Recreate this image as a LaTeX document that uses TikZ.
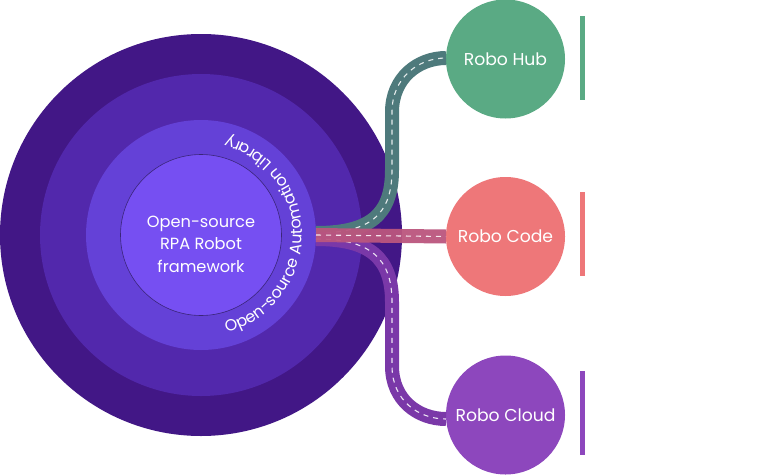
\documentclass[tikz,border=0pt]{standalone}
\usepackage{fontspec}
\setmainfont{Poppins}
\newfontfamily\arcfam[LetterSpace=5]{Poppins}
\usetikzlibrary{decorations.text}
\definecolor{ringA}{HTML}{421786}
\definecolor{ringB}{HTML}{5228AC}
\definecolor{ringC}{HTML}{6441D7}
\definecolor{coreC}{HTML}{764FF2}
\definecolor{coreLine}{HTML}{3A2578}
\definecolor{hubC}{HTML}{5AAA84}
\definecolor{codeC}{HTML}{EE7779}
\definecolor{cloudC}{HTML}{8D47BD}
\definecolor{hubLink}{HTML}{4E7A7C}
\definecolor{codeLink}{HTML}{BB567E}
\definecolor{cloudLink}{HTML}{7A38A8}
\newcommand\arcfont{\arcfam\fontsize{16}{18}\selectfont}
\begin{document}
\begin{tikzpicture}[x=1pt,y=1pt,
  disc/.style={circle, inner sep=0pt, outer sep=0pt},
  robo/.style={disc, minimum size=119pt, text=white, font=\fontsize{17.2}{20}\selectfont},
  bar/.style={inner sep=0pt, outer sep=0pt, minimum width=5pt, minimum height=84pt},
  link/.style={line width=14pt},
  lane/.style={draw=white, line width=1.1pt, dash pattern=on 5pt off 5pt, opacity=0.85}
]
\useasboundingbox (0,0) rectangle (781,-474);
\fill[white] (0,0) rectangle (781,-474);

% concentric circles
\node[disc, fill=ringA, minimum size=402pt] (outer) at (201,-235) {};
\node[disc, fill=ringB, minimum size=322pt] (mid) at (201,-235) {};
\node[disc, fill=ringC, minimum size=230pt] (lib) at (201,-235) {};
\node[disc, fill=coreC, draw=coreLine, line width=0.6pt, minimum size=161pt] (core) at (201,-235) {};
\node[text=white, align=center, font=\fontsize{16.2}{22.5}\selectfont] (coretext) at (201,-244) {Open-source\\RPA Robot\\framework};

% curved label
\path[decorate, decoration={text along path, text color=white, text align=center,
  text={|\arcfont|Open-source Automation Library}}]
  (201,-235) ++(-89:101) arc[start angle=-89, end angle=89, radius=101];

% right circles
\node[robo, fill=hubC] (hub) at (505.5,-59) {Robo Hub};
\node[robo, fill=codeC] (code) at (505.5,-236.5) {Robo Code};
\node[robo, fill=cloudC] (cloud) at (505.5,-415) {Robo Cloud};

% bars
\node[bar, fill=hubC] (hubbar) at (582.5,-58) {};
\node[bar, fill=codeC] (codebar) at (582.5,-234) {};
\node[bar, fill=cloudC] (cloudbar) at (582.5,-413) {};

% connectors
\coordinate (hubstart) at ([yshift=2pt]lib.east);
\coordinate (cloudstart) at ([yshift=-4pt]lib.east);
\coordinate (hubend) at ([yshift=1pt]hub.west);
\coordinate (cloudend) at ([yshift=-4pt]cloud.west);

\draw[link, draw=hubLink] (hubstart) .. controls (370,-233) and (392,-215) .. (392,-170)
  -- (392,-112) .. controls (392,-78) and (418,-58) .. (hubend);
\draw[lane] (hubstart) .. controls (370,-233) and (392,-215) .. (392,-170)
  -- (392,-112) .. controls (392,-78) and (418,-58) .. (hubend);

\draw[link, draw=cloudLink] (cloudstart) .. controls (370,-239) and (392,-258) .. (392,-302)
  -- (392,-366) .. controls (392,-400) and (418,-419) .. (cloudend);
\draw[lane] (cloudstart) .. controls (370,-239) and (392,-258) .. (392,-302)
  -- (392,-366) .. controls (392,-400) and (418,-419) .. (cloudend);

\draw[link, draw=codeLink, opacity=0.95] (lib.east) -- (code.west);
\draw[lane] (lib.east) -- (code.west);
\end{tikzpicture}
\end{document}
